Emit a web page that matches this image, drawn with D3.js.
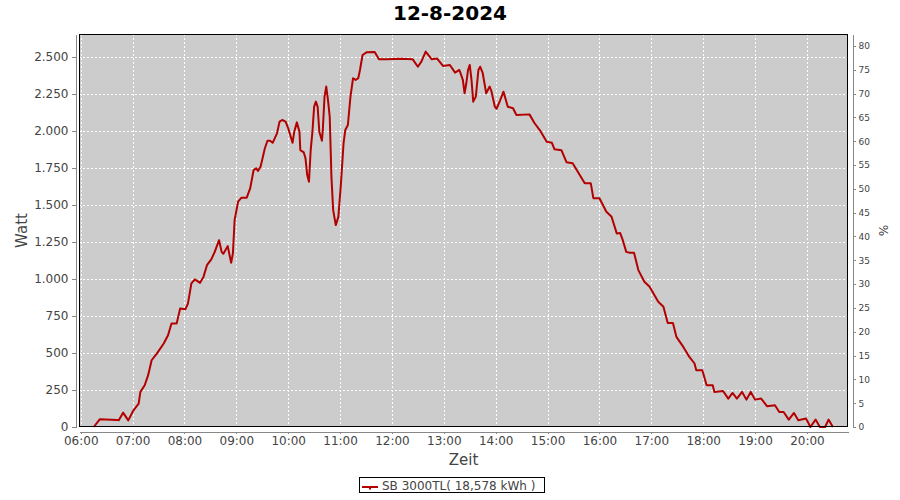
<!DOCTYPE html>
<html>
<head>
<meta charset="utf-8">
<script src="https://cdn.jsdelivr.net/npm/d3@7"></script>
<style>
  body { margin: 0; background: #fff; }
  svg { display: block; font-family: "DejaVu Sans", sans-serif; }
</style>
</head>
<body>
<svg id="chart" width="900" height="500"></svg>
<script>
// ---- data ----
const chartTitle = "12-8-2024";
const seriesName = "SB 3000TL( 18,578 kWh )";
const times = ["06:15","06:22","06:42","06:44","06:49","06:55","07:01","07:07","07:09","07:14","07:18","07:22","07:28","07:36","07:41","07:45","07:51","07:55","08:01","08:04","08:08","08:12","08:18","08:22","08:26","08:31","08:35","08:40","08:43","08:45","08:50","08:54","08:56","08:58","09:02","09:06","09:12","09:16","09:20","09:23","09:25","09:28","09:33","09:36","09:39","09:42","09:47","09:50","09:53","09:57","10:00","10:05","10:07","10:10","10:13","10:14","10:18","10:20","10:22","10:24","10:26","10:28","10:30","10:32","10:34","10:36","10:39","10:40","10:42","10:44","10:46","10:48","10:50","10:52","10:55","10:58","11:01","11:04","11:06","11:09","11:12","11:15","11:18","11:21","11:23","11:26","11:31","11:40","11:45","11:54","12:09","12:24","12:30","12:34","12:39","12:46","12:52","12:59","13:07","13:13","13:18","13:22","13:24","13:26","13:28","13:30","13:32","13:34","13:37","13:40","13:42","13:45","13:49","13:53","13:55","13:59","14:01","14:05","14:09","14:14","14:20","14:24","14:39","14:45","14:51","14:59","15:05","15:08","15:16","15:22","15:29","15:43","15:50","15:53","16:00","16:08","16:14","16:20","16:24","16:27","16:31","16:35","16:40","16:45","16:52","16:58","17:08","17:14","17:19","17:25","17:29","17:37","17:44","17:50","17:52","17:59","18:04","18:11","18:13","18:23","18:29","18:34","18:39","18:45","18:50","18:55","19:00","19:07","19:14","19:23","19:28","19:33","19:39","19:45","19:50","19:59","20:04","20:10","20:15","20:21","20:25","20:30"];
const watts = [0,52,48,45,97,45,113,158,237,282,350,451,496,564,620,699,700,801,795,834,970,997,974,1014,1093,1132,1183,1262,1183,1170,1222,1109,1172,1398,1522,1549,1549,1612,1736,1747,1730,1758,1883,1934,1934,1920,1984,2063,2074,2063,2018,1920,1995,2058,1995,1871,1855,1815,1702,1657,1871,1995,2164,2198,2164,1995,1934,2006,2232,2300,2210,2096,1690,1465,1364,1420,1646,1916,2006,2040,2232,2356,2345,2356,2412,2513,2532,2534,2484,2484,2487,2484,2434,2468,2536,2484,2490,2439,2446,2394,2412,2345,2254,2322,2412,2446,2345,2198,2232,2412,2434,2390,2254,2300,2270,2164,2150,2205,2265,2164,2153,2108,2112,2052,2006,1927,1920,1876,1870,1788,1782,1646,1646,1545,1545,1454,1420,1308,1310,1262,1183,1177,1177,1060,981,947,846,812,703,703,609,541,473,429,383,383,282,282,237,243,192,230,192,237,185,237,185,192,140,147,101,101,50,95,45,57,0,50,0,0,50,0];
const xTickLabels = ["06:00","07:00","08:00","09:00","10:00","11:00","12:00","13:00","14:00","15:00","16:00","17:00","18:00","19:00","20:00"];
const wattTicks = [0,250,500,750,1000,1250,1500,1750,2000,2250,2500];
const pctTicks = [0,5,10,15,20,25,30,35,40,45,50,55,60,65,70,75,80];

// ---- layout ----
const P = { left: 79, right: 848, top: 34, bottom: 427 };
const svg = d3.select("#chart");
const day = (s) => { const [h, m] = s.split(":").map(Number); return new Date(2024, 7, 12, h, m); };
const data = times.map((t, i) => ({ t: day(t), w: watts[i] }));

const x = d3.scaleTime().domain([day("05:58"), new Date(2024, 7, 12, 20, 47, 30)]).range([P.left, P.right]);
const y = d3.scaleLinear().domain([0, 2655]).range([P.bottom, P.top]);
const y2 = d3.scaleLinear().domain([0, 82.5]).range([P.bottom, P.top]);
const de = d3.formatLocale({ decimal: ",", thousands: ".", grouping: [3], currency: ["", "€"] });
const fmt = de.format(",d");
const xTicks = xTickLabels.map(day);

// title
svg.append("text").attr("x", 450).attr("y", 20).attr("text-anchor", "middle")
  .attr("font-size", 20).attr("font-weight", "bold").attr("fill", "#000").text(chartTitle);

// plot background
svg.append("rect").attr("x", P.left).attr("y", P.top).attr("width", P.right - P.left).attr("height", P.bottom - P.top)
  .attr("fill", "#cccccc");

// gridlines
const grid = svg.append("g").attr("stroke", "#fff").attr("stroke-width", 1).attr("stroke-dasharray", "2,2").attr("shape-rendering", "crispEdges");
grid.selectAll(".gx").data(xTicks).join("line")
  .attr("x1", d => Math.round(x(d)) + 0.5).attr("x2", d => Math.round(x(d)) + 0.5)
  .attr("y1", P.top).attr("y2", P.bottom);
grid.selectAll(".gy").data(wattTicks.slice(1)).join("line")
  .attr("y1", d => Math.round(y(d)) + 0.5).attr("y2", d => Math.round(y(d)) + 0.5)
  .attr("x1", P.left).attr("x2", P.right);

// line
const line = d3.line().x(d => x(d.t)).y(d => y(d.w));
svg.append("path").datum(data).attr("d", line).attr("fill", "none")
  .attr("stroke", "#b30000").attr("stroke-width", 2).attr("stroke-linejoin", "round");

// border
svg.append("rect").attr("x", P.left + 0.5).attr("y", P.top + 0.5).attr("width", P.right - P.left - 1).attr("height", P.bottom - P.top - 1)
  .attr("fill", "none").attr("stroke", "#000").attr("stroke-width", 1);

// axes
function styleAxis(g, size) {
  g.select(".domain").attr("stroke", "#888").attr("shape-rendering", "crispEdges");
  g.selectAll(".tick line").attr("stroke", "#888").attr("shape-rendering", "crispEdges");
  g.selectAll(".tick text").attr("fill", "#444").attr("font-size", size).attr("font-family", "DejaVu Sans, sans-serif");
}
const gx = svg.append("g").attr("transform", `translate(0,${P.bottom + 4.5})`)
  .call(d3.axisBottom(x).tickValues(xTicks).tickFormat(d3.timeFormat("%H:%M")).tickSize(2).tickSizeOuter(0).tickPadding(3));
styleAxis(gx, 12);
const gy = svg.append("g").attr("transform", `translate(${P.left - 3.5},0)`)
  .call(d3.axisLeft(y).tickValues(wattTicks).tickFormat(fmt).tickSize(4).tickSizeOuter(0).tickPadding(3));
styleAxis(gy, 12);
const gy2 = svg.append("g").attr("transform", `translate(${P.right + 4.5},0)`)
  .call(d3.axisRight(y2).tickValues(pctTicks).tickFormat(d => d).tickSize(3).tickSizeOuter(0).tickPadding(3));
styleAxis(gy2, 9);

// axis labels
svg.append("text").attr("transform", `translate(27,${(P.top + P.bottom) / 2}) rotate(-90)`).attr("text-anchor", "middle")
  .attr("font-size", 15).attr("fill", "#444").text("Watt");
svg.append("text").attr("x", (P.left + P.right) / 2).attr("y", 465).attr("text-anchor", "middle")
  .attr("font-size", 15).attr("fill", "#444").text("Zeit");
svg.append("text").attr("transform", `translate(879,${(P.top + P.bottom) / 2}) rotate(90)`).attr("text-anchor", "middle")
  .attr("font-size", 12).attr("fill", "#444").text("%");

// legend
const lg = svg.append("g");
lg.append("rect").attr("x", 359.5).attr("y", 477.5).attr("width", 185).attr("height", 15).attr("fill", "#fff").attr("stroke", "#000");
lg.append("line").attr("x1", 362).attr("x2", 378).attr("y1", 487).attr("y2", 487).attr("stroke", "#b30000").attr("stroke-width", 2);
lg.append("line").attr("x1", 370).attr("x2", 370).attr("y1", 487).attr("y2", 489.5).attr("stroke", "#b30000").attr("stroke-width", 2);
lg.append("text").attr("x", 382).attr("y", 489.5).attr("font-size", 12).attr("fill", "#444").text(seriesName);
</script>
</body>
</html>
